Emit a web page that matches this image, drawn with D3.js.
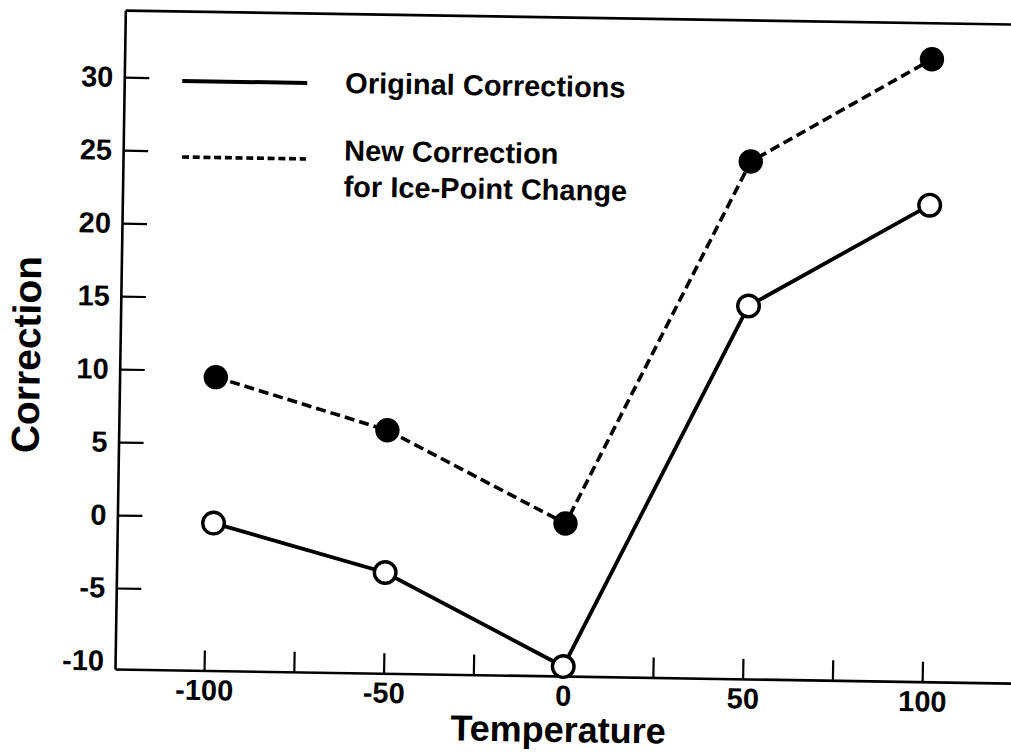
<!DOCTYPE html>
<html>
<head>
<meta charset="utf-8">
<script src="https://cdn.jsdelivr.net/npm/d3@7"></script>
<style>
  body { margin: 0; background: #fff; }
  svg { display: block; }
  text { font-family: "Liberation Sans", Arial, Helvetica, sans-serif; font-weight: bold; fill: #000; }
  .axis path, .axis line { stroke: #000; }
</style>
</head>
<body>
<div class="chart"></div>
<script>
// === Data ===
const temps = [-98, -50, 0, 50, 100];
const originalCorr = [-0.45, -3.65, -9.9, 15.0, 22.1];
const newCorr = [9.55, 6.1, -0.1, 24.9, 32.1];
const xTicks = [-100, -75, -50, -25, 0, 25, 50, 75, 100];
const yTicks = [-10, -5, 0, 5, 10, 15, 20, 25, 30];
const legendLabels = ["Original Corrections", "New Correction", "for Ice-Point Change"];

const W = 1011, H = 752;
const origin = {x: 115, y: 669};

const svg = d3.select(".chart").append("svg")
    .attr("width", W)
    .attr("height", H);

// the scan is tilted a little, so the whole figure is turned about the axis corner
const g = svg.append("g")
    .attr("transform", "rotate(0.9," + origin.x + "," + origin.y + ")");

// === Scales ===
const xScale = d3.scaleLinear()
    .domain([-124.8, 130])
    .range([origin.x, 1030]);
const yScale = d3.scaleLinear()
    .domain([-10.55, 34.6])
    .range([origin.y, 10]);

// === Axes ===
const xAxis = d3.axisBottom(xScale)
    .tickValues(xTicks)
    .tickSizeInner(-20)
    .tickSizeOuter(0)
    .tickPadding(9)
    .tickFormat(d => d % 50 === 0 ? d : "");

const yAxis = d3.axisLeft(yScale)
    .tickValues(yTicks)
    .tickSizeInner(-25)
    .tickSizeOuter(0)
    .tickPadding(11)
    .tickFormat(d => d);

const topAxis = d3.axisTop(xScale)
    .tickValues([])
    .tickSizeOuter(0);

const xg = g.append("g")
    .attr("class", "axis x-axis")
    .attr("transform", "translate(0," + origin.y + ")")
    .call(xAxis);

const yg = g.append("g")
    .attr("class", "axis y-axis")
    .attr("transform", "translate(" + origin.x + ",0)")
    .call(yAxis);

g.append("g")
    .attr("class", "axis top-axis")
    .attr("transform", "translate(0," + yScale.range()[1] + ")")
    .call(topAxis);

g.selectAll(".axis .domain").attr("stroke-width", 2.6);
g.selectAll(".axis .tick line").attr("stroke-width", 2.2);
g.selectAll(".axis text")
    .attr("font-size", "29px")
    .attr("fill", "#000");
// no tick mark at -10, only its label
yg.selectAll(".tick").filter(d => d === -10).select("line").remove();

// axis titles
g.append("text")
    .attr("class", "axis-title")
    .attr("transform", "translate(35,356) rotate(-90)")
    .attr("text-anchor", "middle")
    .attr("font-size", "39px")
    .text("Correction");

g.append("text")
    .attr("class", "axis-title")
    .attr("x", 559)
    .attr("y", 735)
    .attr("text-anchor", "middle")
    .attr("font-size", "36px")
    .text("Temperature");

// === Lines ===
const origData = temps.map((t, i) => ({t: t, v: originalCorr[i]}));
const newData = temps.map((t, i) => ({t: t, v: newCorr[i]}));

const line = d3.line()
    .x(d => xScale(d.t))
    .y(d => yScale(d.v));

g.append("path")
    .datum(newData)
    .attr("d", line)
    .attr("fill", "none")
    .attr("stroke", "#000")
    .attr("stroke-width", 3.6)
    .attr("stroke-dasharray", "10,5");

g.append("path")
    .datum(origData)
    .attr("d", line)
    .attr("fill", "none")
    .attr("stroke", "#000")
    .attr("stroke-width", 3.8);

g.selectAll(".dot-new")
    .data(newData)
    .enter()
    .append("circle")
    .attr("class", "dot-new")
    .attr("cx", d => xScale(d.t))
    .attr("cy", d => yScale(d.v))
    .attr("r", 12.2)
    .attr("fill", "#000");

g.selectAll(".dot-orig")
    .data(origData)
    .enter()
    .append("circle")
    .attr("class", "dot-orig")
    .attr("cx", d => xScale(d.t))
    .attr("cy", d => yScale(d.v))
    .attr("r", 10.8)
    .attr("fill", "#fff")
    .attr("stroke", "#000")
    .attr("stroke-width", 3.4);

// === Legend ===
const legend = g.append("g").attr("class", "legend");

legend.append("line")
    .attr("x1", 173).attr("x2", 298)
    .attr("y1", 80).attr("y2", 80)
    .attr("stroke", "#000")
    .attr("stroke-width", 4);

legend.append("line")
    .attr("x1", 174).attr("x2", 298)
    .attr("y1", 156).attr("y2", 156)
    .attr("stroke", "#000")
    .attr("stroke-width", 3.6)
    .attr("stroke-dasharray", "7,3.7");

legend.selectAll(".legend-text")
    .data(legendLabels)
    .enter()
    .append("text")
    .attr("class", "legend-text")
    .attr("x", 336)
    .attr("y", (d, i) => [89.5, 157, 193][i])
    .attr("font-size", "29px")
    .text(d => d);
</script>
</body>
</html>
